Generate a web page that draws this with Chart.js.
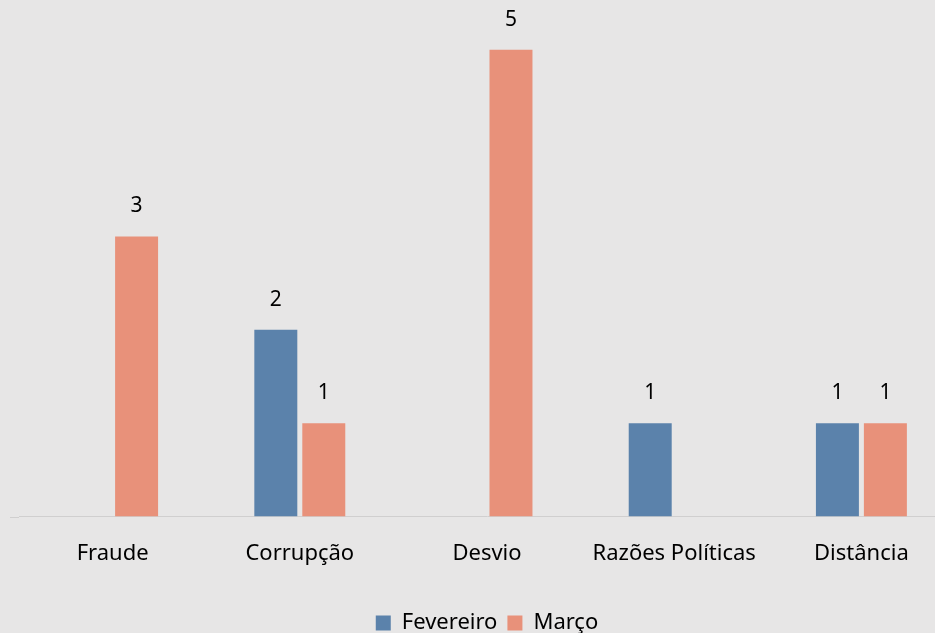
<!DOCTYPE html>
<html><head><meta charset="utf-8">
<script src="https://cdn.jsdelivr.net/npm/chart.js@4/dist/chart.umd.min.js"></script>
<style>
html,body{margin:0;padding:0;background:#e7e6e6;overflow:hidden}
#wrap{width:935px;height:633px;overflow:hidden;position:relative}
#box{width:980px;height:633px;position:absolute;left:0;top:0}
</style></head><body>
<div id="wrap"><div id="box"><canvas id="c"></canvas></div></div>
<script>
const categories = ["Fraude", "Corrupção", "Desvio", "Razões Políticas", "Distância"];
const fevereiro = [null, 2, null, 1, 1];
const marco = [3, 1, 5, null, 1];
const seriesNames = ["Fevereiro", "Março"];

const FONT = "'Noto Sans', 'Open Sans', sans-serif";

const valueLabels = {
  id: 'valueLabels',
  beforeDatasetsDraw(chart) {
    const ctx = chart.ctx, a = chart.chartArea;
    ctx.save();
    ctx.strokeStyle = '#d0cfcf';
    ctx.lineWidth = 1;
    ctx.beginPath();
    ctx.moveTo(10, Math.round(a.bottom) + 0.5);
    ctx.lineTo(a.left, Math.round(a.bottom) + 0.5);
    ctx.stroke();
    ctx.restore();
  },
  afterDatasetsDraw(chart) {
    const ctx = chart.ctx;
    ctx.save();
    ctx.fillStyle = '#000';
    ctx.font = "21px " + FONT;
    ctx.textAlign = 'center';
    ctx.textBaseline = 'middle';
    chart.data.datasets.forEach((ds, i) => {
      const meta = chart.getDatasetMeta(i);
      meta.data.forEach((bar, j) => {
        const v = ds.data[j];
        if (v === null || v === undefined) return;
        ctx.fillText(String(v), bar.x, bar.y - 30);
      });
    });
    ctx.restore();
  }
};

new Chart(document.getElementById('c'), {
  type: 'bar',
  data: {
    labels: categories,
    datasets: [
      {label: seriesNames[0], data: fevereiro, backgroundColor: '#5b82ab', categoryPercentage: 0.5125, barPercentage: 0.896},
      {label: seriesNames[1], data: marco, backgroundColor: '#e8917a', categoryPercentage: 0.5125, barPercentage: 0.896}
    ]
  },
  options: {
    responsive: true,
    maintainAspectRatio: false,
    animation: false,
    layout: {padding: {left: 19, right: 25, top: 3, bottom: -11}},
    plugins: {
      legend: {
        position: 'bottom',
        labels: {font: {family: FONT, size: 22}, color: '#000', boxWidth: 15, boxHeight: 15, padding: 10}
      },
      tooltip: {enabled: false}
    },
    scales: {
      x: {
        grid: {display: false},
        border: {display: true, color: '#d0cfcf', width: 1},
        ticks: {font: {family: FONT, size: 22}, color: '#000', padding: 16, maxRotation: 0},
        afterFit(scale) { scale.height += 19; }
      },
      y: {
        display: false,
        min: 0,
        max: 5.5
      }
    }
  },
  plugins: [valueLabels]
});
</script>
</body></html>
